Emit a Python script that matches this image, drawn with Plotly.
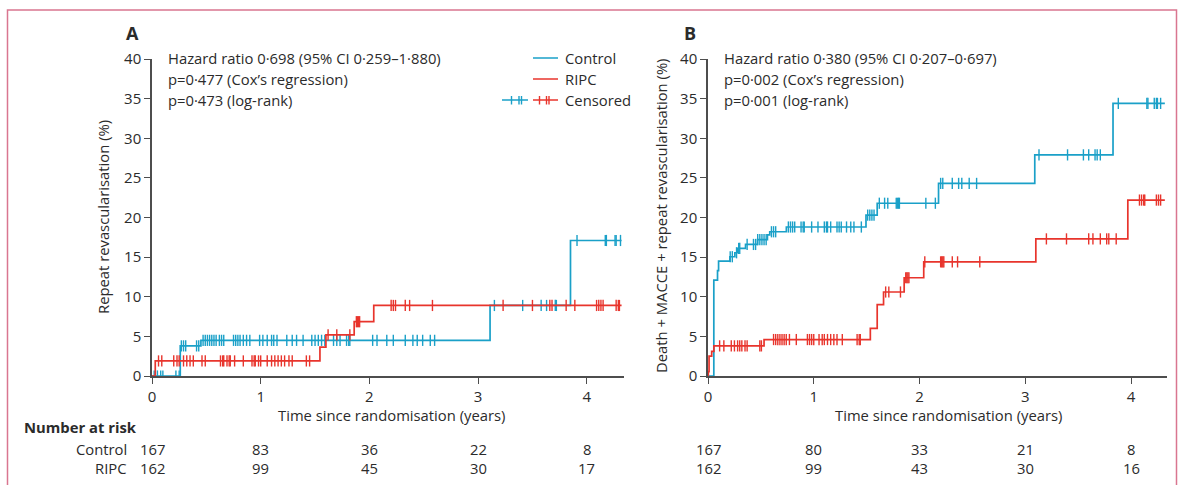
import numpy as np
import plotly.graph_objects as go

W, H = 1184, 485

# ---------------- DATA ----------------
# Panel A: repeat revascularisation (%)
a_ctrl_t = [0, 0.26, 0.45, 3.11, 3.85, 4.32]
a_ctrl_v = [0, 3.8, 4.5, 8.9, 17.1, 17.1]
a_ripc_t = [0, 0.03, 1.545, 1.60, 1.86, 2.04, 4.32]
a_ripc_v = [0, 1.9, 3.65, 5.2, 6.85, 8.9, 8.9]
a_ctrl_cens = [0.02, 0.05, 0.08, 0.10, 0.22, 0.25, 0.27, 0.29, 0.31, 0.41, 0.43,
               0.47, 0.49, 0.51, 0.53, 0.55, 0.57, 0.59, 0.62, 0.64, 0.66, 0.75, 0.77,
               0.79, 0.81, 0.84, 0.87, 0.90, 0.99, 1.02, 1.06, 1.10, 1.12, 1.15, 1.24,
               1.29, 1.33, 1.39, 1.47, 1.50, 1.53, 1.56, 1.59, 1.67, 1.70, 1.73, 1.79,
               1.81, 1.82, 2.03, 2.07, 2.16, 2.22, 2.33, 2.40, 2.44, 2.49, 2.56, 2.60,
               3.15, 3.41, 3.58, 3.63, 3.71, 3.72, 3.91, 4.17, 4.18, 4.26, 4.27, 4.31]
a_ripc_cens = [0.06, 0.09, 0.20, 0.23, 0.25, 0.29, 0.32, 0.35, 0.38, 0.46, 0.49,
               0.63, 0.65, 0.66, 0.69, 0.71, 0.72, 0.76, 0.84, 0.92, 0.94, 0.95, 0.98,
               1.00, 1.06, 1.10, 1.13, 1.16, 1.19, 1.22, 1.26, 1.29, 1.42, 1.45, 1.62,
               1.70, 1.82, 1.88, 1.89, 1.90, 1.91, 2.20, 2.22, 2.24, 2.33, 2.37, 2.58,
               3.23, 3.50, 3.66, 3.68, 3.81, 3.89, 4.09, 4.11, 4.13, 4.15, 4.27, 4.29, 4.30]

# Panel B: death + MACCE + repeat revascularisation (%)
b_ctrl_t = [0, 0.055, 0.09, 0.10, 0.207, 0.254, 0.28, 0.355, 0.468, 0.562, 0.584,
            0.741, 1.494, 1.60, 2.18, 3.09, 3.83, 4.32]
b_ctrl_v = [0, 12.1, 13.3, 14.5, 15.05, 15.55, 16.1, 16.6, 17.2, 17.8, 18.2,
            18.8, 20.3, 21.8, 24.3, 27.9, 34.4, 34.4]
b_ripc_t = [0, 0.003, 0.01, 0.035, 0.056, 0.53, 1.535, 1.60, 1.66, 1.855, 2.04, 3.10, 3.97, 4.32]
b_ripc_v = [0, 0.55, 2.5, 3.1, 3.8, 4.6, 6.0, 9.0, 10.6, 12.4, 14.4, 17.3, 22.2, 22.2]
b_ctrl_cens = [0.21, 0.23, 0.27, 0.29, 0.30, 0.37, 0.43, 0.45, 0.47, 0.49, 0.51, 0.53,
               0.55, 0.60, 0.62, 0.64, 0.76, 0.78, 0.80, 0.82, 0.88, 0.90, 0.91, 0.98,
               1.04, 1.10, 1.12, 1.13, 1.16, 1.22, 1.24, 1.26, 1.31, 1.35, 1.38, 1.45,
               1.51, 1.53, 1.55, 1.57, 1.62, 1.67, 1.70, 1.78, 1.79, 1.80, 1.81, 2.06,
               2.15, 2.20, 2.22, 2.31, 2.37, 2.40, 2.47, 2.54, 3.13, 3.40, 3.55, 3.60,
               3.66, 3.68, 3.71, 3.88, 4.15, 4.16, 4.22, 4.24, 4.25, 4.28]
b_ripc_cens = [0.11, 0.15, 0.22, 0.25, 0.28, 0.30, 0.32, 0.35, 0.37, 0.49, 0.505,
               0.62, 0.64, 0.66, 0.68, 0.70, 0.72, 0.74, 0.77, 0.835, 0.94, 0.96, 0.98,
               1.00, 1.05, 1.08, 1.10, 1.13, 1.16, 1.19, 1.22, 1.27, 1.41, 1.43, 1.44,
               1.68, 1.71, 1.82, 1.87, 1.88, 1.89, 1.90, 2.05, 2.20, 2.21, 2.22, 2.23,
               2.31, 2.36, 2.57, 3.20, 3.39, 3.60, 3.64, 3.71, 3.77, 3.79, 3.86, 4.08,
               4.10, 4.12, 4.13, 4.24, 4.26, 4.28]

risk_times = [0, 1, 2, 3, 4]
a_risk_ctrl = [167, 83, 36, 22, 8]
a_risk_ripc = [162, 99, 45, 30, 17]
b_risk_ctrl = [167, 80, 33, 21, 8]
b_risk_ripc = [162, 99, 43, 30, 16]

y_ticks = [0, 5, 10, 15, 20, 25, 30, 35, 40]
x_ticks = [0, 1, 2, 3, 4]

a_stats = ["Hazard ratio 0·698 (95% CI 0·259–1·880)", "p=0·477 (Cox’s regression)", "p=0·473 (log-rank)"]
b_stats = ["Hazard ratio 0·380 (95% CI 0·207–0·697)", "p=0·002 (Cox’s regression)", "p=0·001 (log-rank)"]

# ---------------- STYLE ----------------
BLUE = "#1aa0c8"
RED = "#e8342c"
AX = "#4d4d4d"
TXT = "#2b2b2b"
FONT = "Open Sans"
FS = 14.8


def px(x):
    return x / W


def py(y):
    return 1 - y / H


def level_at(times, vals, t):
    idx = np.searchsorted(np.asarray(times), np.asarray(t), side="right") - 1
    return np.asarray(vals)[idx]


fig = go.Figure()

panels = [
    ("x", "y", a_ctrl_t, a_ctrl_v, a_ripc_t, a_ripc_v, a_ctrl_cens, a_ripc_cens),
    ("x2", "y2", b_ctrl_t, b_ctrl_v, b_ripc_t, b_ripc_v, b_ctrl_cens, b_ripc_cens),
]
for xa, ya, ct, cv, rt, rv, cc, rc in panels:
    for t, v, cens, col in [(ct, cv, cc, BLUE), (rt, rv, rc, RED)]:
        fig.add_trace(go.Scatter(x=t, y=v, mode="lines", line=dict(color=col, width=1.7, shape="hv"),
                                 xaxis=xa, yaxis=ya, showlegend=False, hoverinfo="skip"))
        fig.add_trace(go.Scatter(x=cens, y=level_at(t, v, cens), mode="markers",
                                 marker=dict(symbol="line-ns", size=8, line=dict(color=col, width=1.4)),
                                 xaxis=xa, yaxis=ya, showlegend=False, hoverinfo="skip"))

ax_common = dict(showline=True, linecolor=AX, linewidth=1.5, ticks="outside", ticklen=6,
                 tickwidth=1.3, tickcolor=AX, showgrid=False, zeroline=False, automargin=False,
                 tickfont=dict(family=FONT, size=15, color=TXT))

ydom = [py(376), py(59)]
fig.update_layout(
    template="none",
    width=W, height=H, autosize=False, margin=dict(l=0, r=0, t=0, b=0, pad=0),
    paper_bgcolor="white", plot_bgcolor="white", showlegend=False,
    font=dict(family=FONT, size=FS, color=TXT),
    xaxis=dict(domain=[px(152), px(624)], range=[0, (624 - 152) / 108.7], tickvals=x_ticks,
               anchor="y", **ax_common),
    yaxis=dict(domain=ydom, range=[0, 40], tickvals=y_ticks, anchor="x", **ax_common),
    xaxis2=dict(domain=[px(708), px(1167)], range=[0, (1167 - 708) / 105.75], tickvals=x_ticks,
                anchor="y2", **ax_common),
    yaxis2=dict(domain=ydom, range=[0, 40], tickvals=y_ticks, anchor="x2", **ax_common),
)

ann = []


def txt(x, y, s, size=FS, xanchor="left", bold=False, angle=0, xref="paper"):
    ann.append(dict(x=x, y=y, xref=xref, yref="paper", text=("<b>%s</b>" % s) if bold else s,
                    showarrow=False, xanchor=xanchor, yanchor="middle", textangle=angle,
                    font=dict(family=FONT, size=size, color=TXT)))


# panel letters
txt(px(132), py(33), "A", size=18, xanchor="center", bold=True)
txt(px(690), py(33), "B", size=18, xanchor="center", bold=True)

# statistics
for i, s in enumerate(a_stats):
    txt(px(166), py(58 + 21 * i), s)
for i, s in enumerate(b_stats):
    txt(px(722), py(58 + 21 * i), s)

# axis titles
txt(px(391), py(415), "Time since randomisation (years)", xanchor="center")
txt(px(948), py(415), "Time since randomisation (years)", xanchor="center")
txt(px(103), py(217), "Repeat revascularisation (%)", xanchor="center", angle=-90)
txt(px(661), py(216), "Death + MACCE + repeat revascularisation (%)", xanchor="center", angle=-90)

# legend
txt(px(563), py(58), "Control")
txt(px(563), py(79), "RIPC")
txt(px(563), py(100), "Censored")
shapes = []


def seg(x0, y0, x1, y1, col, w=1.5):
    shapes.append(dict(type="line", xref="paper", yref="paper", x0=px(x0), y0=py(y0),
                       x1=px(x1), y1=py(y1), line=dict(color=col, width=w)))


seg(533, 58, 558, 58, BLUE)
seg(533, 79, 558, 79, RED)
seg(502, 100, 528, 100, BLUE)
seg(533, 100, 558, 100, RED)
for xx in (511.5, 519, 521.5):
    seg(xx, 96, xx, 104.5, BLUE, 1.4)
for xx in (539.5, 546.5, 549):
    seg(xx, 96, xx, 104.5, RED, 1.4)

# frame
shapes.append(dict(type="rect", xref="paper", yref="paper", x0=px(7.5), x1=px(1176.5),
                   y0=-0.2, y1=py(10), line=dict(color="#d97690", width=1.5)))

# number at risk
txt(px(22), py(427), "Number at risk", bold=True)
txt(px(129), py(449), "Control", xanchor="right")
txt(px(129), py(468), "RIPC", xanchor="right")
for xref, rc, rr in [("x", a_risk_ctrl, a_risk_ripc), ("x2", b_risk_ctrl, b_risk_ripc)]:
    for t, c, r in zip(risk_times, rc, rr):
        txt(t, py(449), str(c), xanchor="center", xref=xref)
        txt(t, py(468), str(r), xanchor="center", xref=xref)

fig.update_layout(annotations=ann, shapes=shapes)
fig.write_html("out.html")
